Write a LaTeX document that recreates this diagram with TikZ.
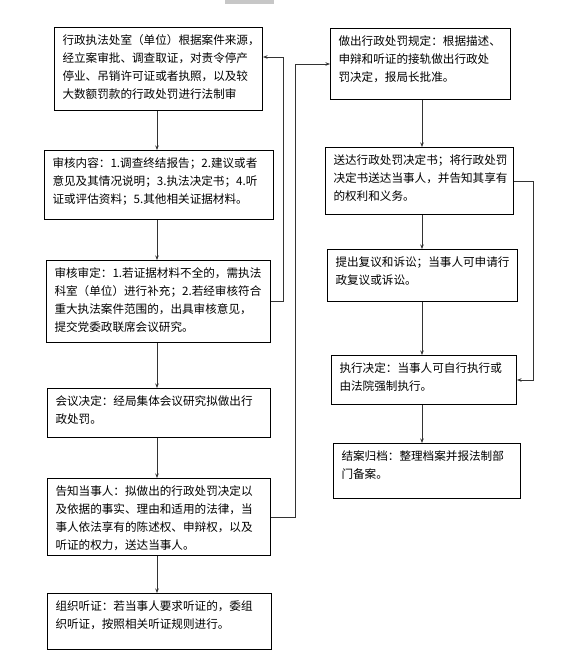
\documentclass[tikz,border=0pt]{standalone}
\usepackage{fontspec}
\setmainfont{Noto Sans CJK SC}
\usetikzlibrary{arrows.meta}
\newcommand{\bt}[3]{\parbox[c][\dimexpr#2pt-14pt\relax][t]{\dimexpr#1pt-16pt\relax}{\raggedright\fontsize{11.6}{18}\selectfont #3}}
\begin{document}
\begin{tikzpicture}[x=1pt,y=-1pt,
  box/.style={draw=black, line width=1pt, anchor=north west, inner xsep=8pt, inner ysep=7pt, fill=white},
  arr/.style={draw=black!80, line width=0.9pt, -{Stealth[length=4.5pt,width=3.5pt]}},
  ln/.style={draw=black!80, line width=0.9pt}]
\useasboundingbox[fill=white] (0,0) rectangle (565,662);
\fill[black!22] (225,0) rectangle (274,4);

\node[box] (L1) at (54,27) {\bt{208}{83}{行政执法处室（单位）根据案件来源，\\经立案审批、调查取证，对责令停产\\停业、吊销许可证或者执照，以及较\\大数额罚款的行政处罚进行法制审}};
\node[box] (L2) at (44,150) {\bt{229}{69}{审核内容：1.调查终结报告；2.建议或者\\意见及其情况说明；3.执法决定书；4.听\\证或评估资料；5.其他相关证据材料。}};
\node[box] (L3) at (46,260) {\bt{224}{82}{审核审定：1.若证据材料不全的，需执法\\科室（单位）进行补充；2.若经审核符合\\重大执法案件范围的，出具审核意见，\\提交党委政联席会议研究。}};
\node[box] (L4) at (47,388) {\bt{223}{49}{会议决定：经局集体会议研究拟做出行\\政处罚。}};
\node[box] (L5) at (47,478) {\bt{223}{77}{告知当事人：拟做出的行政处罚决定以\\及依据的事实、理由和适用的法律，当\\事人依法享有的陈述权、申辩权，以及\\听证的权力，送达当事人。}};
\node[box] (L6) at (47,593) {\bt{224}{56}{组织听证：若当事人要求听证的，委组\\织听证，按照相关听证规则进行。}};

\node[box] (R1) at (330,28) {\bt{180}{71}{做出行政处罚规定：根据描述、\\申辩和听证的接轨做出行政处\\罚决定，报局长批准。}};
\node[box] (R2) at (325,147) {\bt{188}{67}{送达行政处罚决定书；将行政处罚\\决定书送达当事人，并告知其享有\\的权利和义务。}};
\node[box] (R3) at (327,249) {\bt{190}{52}{提出复议和诉讼；当事人可申请行\\政复议或诉讼。}};
\node[box] (R4) at (331,355) {\bt{185}{49}{执行决定：当事人可自行执行或\\由法院强制执行。}};
\node[box] (R5) at (333,443) {\bt{187}{55}{结案归档：整理档案并报法制部\\门备案。}};

\coordinate (c1) at (283,57);
\coordinate (c2) at (295,0);
\coordinate (c3) at (533,0);
\coordinate (cx) at (157,0);
\coordinate (rx) at (422,0);

\draw[arr] (L1.south -| cx) -- (L2.north -| cx);
\draw[arr] (L2.south -| cx) -- (L3.north -| cx);
\draw[arr] (L3.south -| cx) -- (L4.north -| cx);
\draw[arr] (L4.south -| cx) -- (L5.north -| cx);
\draw[arr] (L5.south -| cx) -- (L6.north -| cx);

\draw[arr] (R1.south -| rx) -- (R2.north -| rx);
\draw[arr] (R2.south -| rx) -- (R3.north -| rx);
\draw[arr] (R3.south -| rx) -- (R4.north -| rx);
\draw[arr] (R4.south -| rx) -- (R5.north -| rx);

\draw[arr] (L3.east) -| (c1) -- (L1.east |- c1);
\draw[arr] (L5.east) -- (L5.east -| c2) |- (R1.west);
\draw[arr] (R2.east) -- (R2.east -| c3) |- (R4.east);
\end{tikzpicture}
\end{document}
